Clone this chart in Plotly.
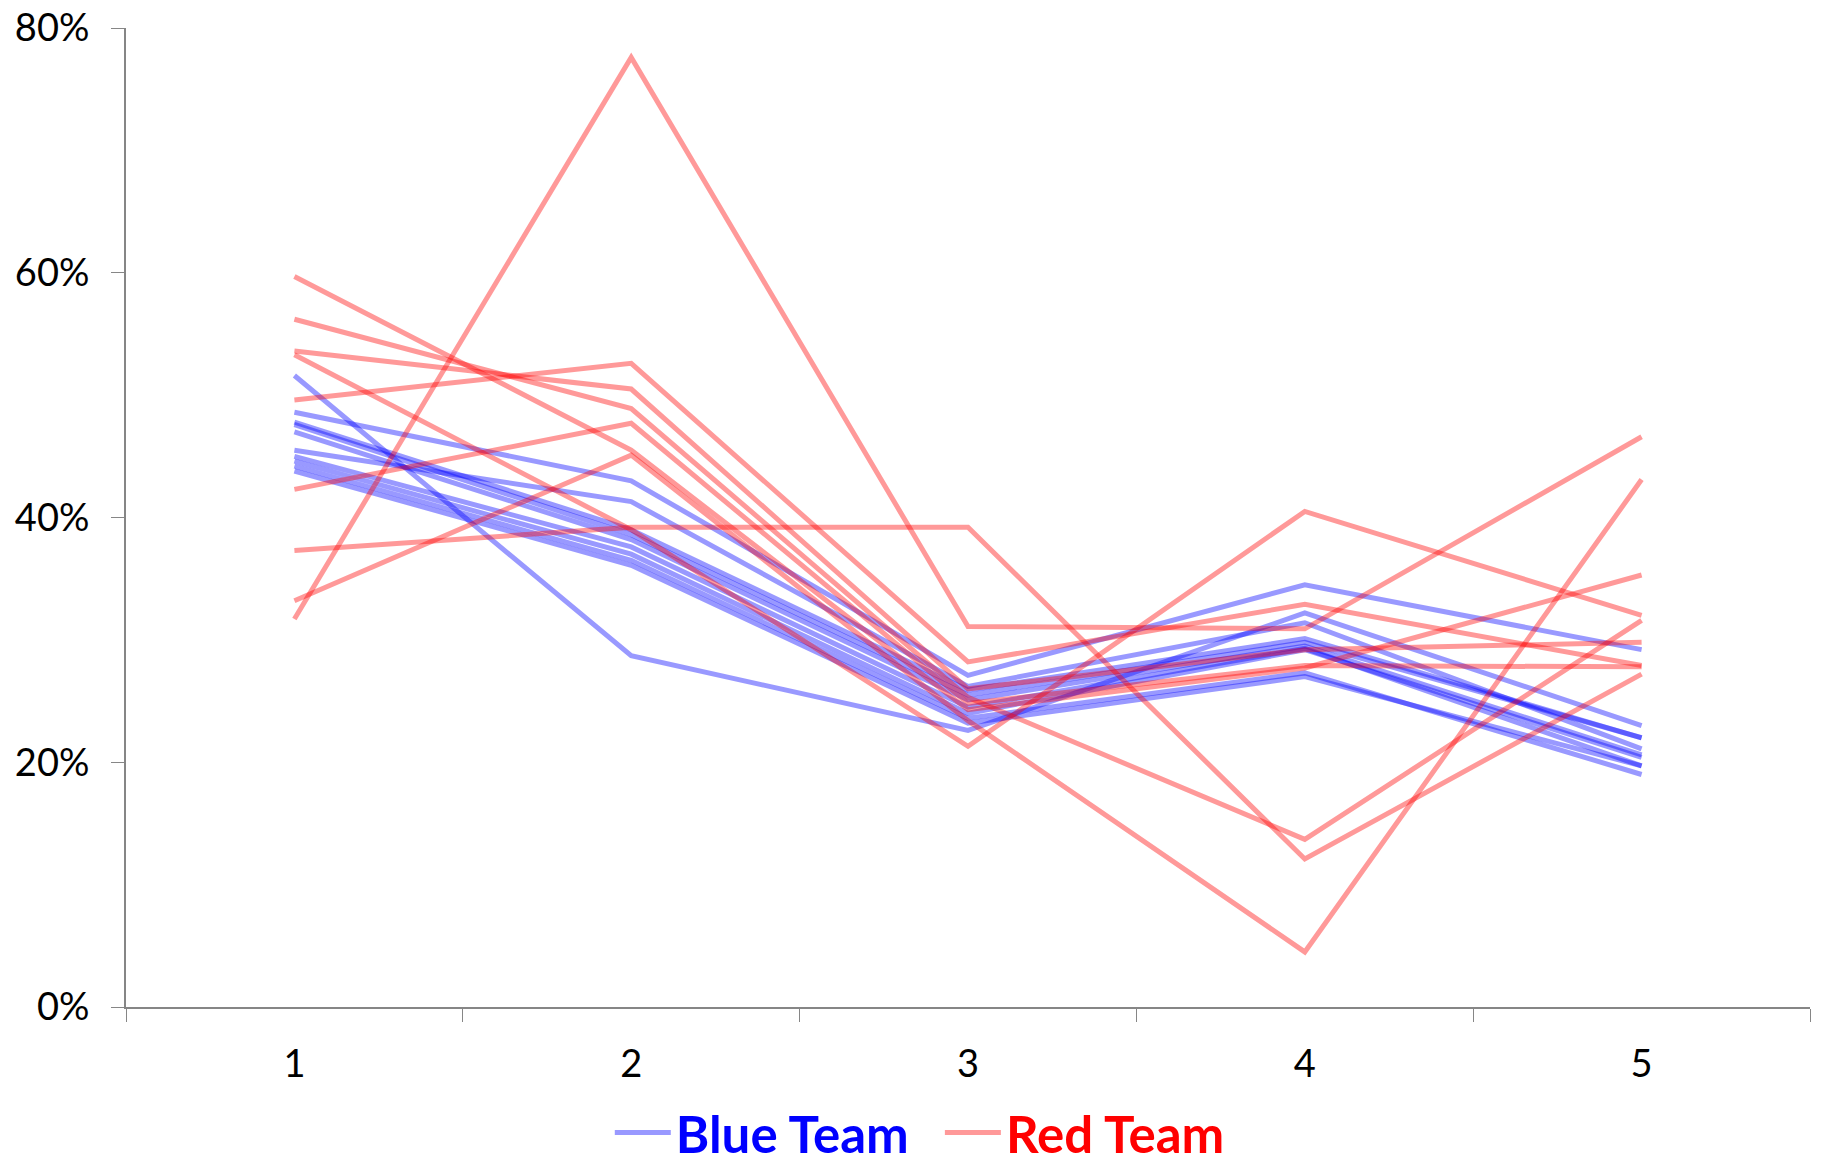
import plotly.graph_objects as go

categories = [1, 2, 3, 4, 5]
category_labels = ["1", "2", "3", "4", "5"]

# Blue Team series (fractions)
blue_1 = [0.516, 0.287, 0.226, 0.322, 0.230]
blue_2 = [0.486, 0.430, 0.271, 0.345, 0.292]
blue_3 = [0.455, 0.413, 0.262, 0.314, 0.211]
blue_4 = [0.478, 0.390, 0.259, 0.301, 0.220]
blue_5 = [0.476, 0.386, 0.255, 0.298, 0.220]
blue_6 = [0.470, 0.382, 0.251, 0.295, 0.206]
blue_7 = [0.450, 0.376, 0.245, 0.293, 0.197]
blue_8 = [0.446, 0.370, 0.240, 0.292, 0.204]
blue_9 = [0.442, 0.365, 0.236, 0.273, 0.190]
blue_10 = [0.438, 0.361, 0.232, 0.270, 0.197]

# Red Team series (fractions)
red_1 = [0.597, 0.455, 0.243, 0.277, 0.353]
red_2 = [0.562, 0.489, 0.253, 0.137, 0.316]
red_3 = [0.536, 0.505, 0.260, 0.292, 0.298]
red_4 = [0.533, 0.390, 0.213, 0.405, 0.320]
red_5 = [0.496, 0.526, 0.282, 0.329, 0.279]
red_6 = [0.423, 0.477, 0.248, 0.279, 0.278]
red_7 = [0.373, 0.392, 0.392, 0.121, 0.272]
red_8 = [0.332, 0.451, 0.234, 0.045, 0.431]
red_9 = [0.317, 0.776, 0.311, 0.309, 0.466]

blue_series = [blue_1, blue_2, blue_3, blue_4, blue_5, blue_6, blue_7, blue_8, blue_9, blue_10]
red_series = [red_1, red_2, red_3, red_4, red_5, red_6, red_7, red_8, red_9]

y_tick_vals = [0, 0.2, 0.4, 0.6, 0.8]
y_tick_text = ["0%", "20%", "40%", "60%", "80%"]

BLUE = "rgba(0,0,255,0.4)"
RED = "rgba(255,0,0,0.4)"
FONT = "Lato"
NB = "\u00a0"

fig = go.Figure()
for i, s in enumerate(blue_series):
    fig.add_trace(go.Scatter(
        x=categories, y=s, mode="lines",
        line=dict(color=BLUE, width=5),
        name="<b><span style='color:#0000FF'>Blue Team</span></b>" + NB * 2,
        legendgroup="blue", showlegend=(i == 0), hoverinfo="skip"))
for i, s in enumerate(red_series):
    fig.add_trace(go.Scatter(
        x=categories, y=s, mode="lines",
        line=dict(color=RED, width=5),
        name="<b><span style='color:#FF0000'>Red Team</span></b>",
        legendgroup="red", showlegend=(i == 0), hoverinfo="skip"))

axis_color = "#868686"
fig.update_layout(
    width=1825, height=1165,
    margin=dict(l=126, r=15, t=28, b=158, autoexpand=False),
    paper_bgcolor="white", plot_bgcolor="white",
    font=dict(family=FONT, size=38, color="black"),
    showlegend=True,
    legend=dict(orientation="h", xref="container", yref="container",
                x=0.504, xanchor="center", y=0.0275, yanchor="middle",
                font=dict(family=FONT, size=51), bgcolor="rgba(0,0,0,0)",
                traceorder="normal", itemwidth=56),
    xaxis=dict(
        range=[0.5, 5.5], tickmode="array", tickvals=categories, ticktext=category_labels,
        ticks="", showgrid=False, zeroline=False, automargin=False,
        showline=True, linecolor=axis_color, linewidth=2,
        ticklabelstandoff=22,
        minor=dict(tickmode="linear", tick0=0.5, dtick=1, ticks="outside",
                   ticklen=13, tickcolor=axis_color, tickwidth=1, showgrid=False),
    ),
    yaxis=dict(
        range=[0, 0.8], tickmode="array", tickvals=y_tick_vals, ticktext=y_tick_text,
        ticks="outside", ticklen=13, tickcolor=axis_color, tickwidth=1,
        showgrid=False, zeroline=False, automargin=False,
        showline=True, linecolor=axis_color, linewidth=2,
        ticklabelstandoff=14,
    ),
)

fig.write_html(
    "out.html",
    config={"displayModeBar": False},
    post_script="document.body.style.margin='0';document.body.style.padding='0';document.body.style.overflow='hidden';",
)
